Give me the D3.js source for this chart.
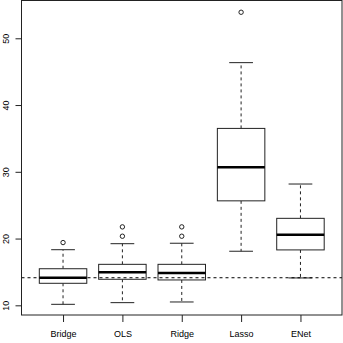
<!DOCTYPE html>
<html>
<head>
<meta charset="utf-8">
<script src="https://cdn.jsdelivr.net/npm/d3@7"></script>
<style>
  body { margin: 0; background: #fff; overflow: hidden; }
  svg { display: block; }
  text { font-family: "Liberation Sans", Arial, sans-serif; font-size: 9px; fill: #000; }
</style>
</head>
<body>
<script>
var methods = ["Bridge", "OLS", "Ridge", "Lasso", "ENet"];
var lowWhisker = [10.15, 10.4, 10.5, 18.1, 14.1];
var q1 = [13.3, 13.9, 13.8, 25.65, 18.3];
var medians = [14.13, 14.94, 14.84, 30.67, 20.58];
var q3 = [15.48, 16.14, 16.14, 36.5, 23.03];
var highWhisker = [18.33, 19.23, 19.3, 46.35, 28.17];
var outliers = [[19.4], [20.35, 21.75], [20.35, 21.75], [53.9], []];
var refLine = 14.13;
var yTicks = [10, 20, 30, 40, 50];

function init () 
{
    var w = 343, h = 343;
    var plotLeft = 21.5, plotRight = 342, plotTop = 0.5, plotBottom = 315;

    var svg = d3.select("body").append("svg")
        .attr("width", w)
        .attr("height", h);

    var xScale = d3.scaleLinear()
        .domain([0.3, 5.7])
        .range([plotLeft, plotRight]);

    var yScale = d3.scaleLinear()
        .domain([8.55, 55.66])
        .range([plotBottom, plotTop]);

    var boxHalf = 0.4;
    var capHalf = 0.2;

    var data = methods.map(function(m, i){
        return {name: m, pos: i + 1, lo: lowWhisker[i], q1: q1[i], med: medians[i],
                q3: q3[i], hi: highWhisker[i], out: outliers[i]};
    });

    var g = svg.selectAll("g.box")
        .data(data)
        .enter()
        .append("g")
        .attr("class", "box");

    // whiskers
    g.append("line")
        .attr("x1", function(d){ return xScale(d.pos); })
        .attr("x2", function(d){ return xScale(d.pos); })
        .attr("y1", function(d){ return yScale(d.q3); })
        .attr("y2", function(d){ return yScale(d.hi); })
        .attr("stroke", "#222").attr("stroke-dasharray", "3,3");
    g.append("line")
        .attr("x1", function(d){ return xScale(d.pos); })
        .attr("x2", function(d){ return xScale(d.pos); })
        .attr("y1", function(d){ return yScale(d.q1); })
        .attr("y2", function(d){ return yScale(d.lo); })
        .attr("stroke", "#222").attr("stroke-dasharray", "3,3");

    // staples
    ["hi", "lo"].forEach(function(k){
        g.append("line")
            .attr("x1", function(d){ return xScale(d.pos - capHalf); })
            .attr("x2", function(d){ return xScale(d.pos + capHalf); })
            .attr("y1", function(d){ return yScale(d[k]); })
            .attr("y2", function(d){ return yScale(d[k]); })
            .attr("stroke", "#222");
    });

    // boxes
    g.append("rect")
        .attr("x", function(d){ return xScale(d.pos - boxHalf); })
        .attr("y", function(d){ return yScale(d.q3); })
        .attr("width", function(d){ return xScale(d.pos + boxHalf) - xScale(d.pos - boxHalf); })
        .attr("height", function(d){ return yScale(d.q1) - yScale(d.q3); })
        .attr("fill", "#fff")
        .attr("stroke", "#222");

    // medians
    g.append("line")
        .attr("x1", function(d){ return xScale(d.pos - boxHalf); })
        .attr("x2", function(d){ return xScale(d.pos + boxHalf); })
        .attr("y1", function(d){ return yScale(d.med); })
        .attr("y2", function(d){ return yScale(d.med); })
        .attr("stroke", "#000")
        .attr("stroke-width", 2.5);

    // outliers
    g.selectAll("circle")
        .data(function(d){ return d.out.map(function(v){ return {pos: d.pos, v: v}; }); })
        .enter()
        .append("circle")
        .attr("cx", function(d){ return xScale(d.pos); })
        .attr("cy", function(d){ return yScale(d.v); })
        .attr("r", 2.2)
        .attr("fill", "none")
        .attr("stroke", "#222");

    // reference line
    svg.append("line")
        .attr("x1", plotLeft).attr("x2", plotRight)
        .attr("y1", yScale(refLine)).attr("y2", yScale(refLine))
        .attr("stroke", "#000")
        .attr("stroke-dasharray", "3,3");

    // frame
    svg.append("rect")
        .attr("x", plotLeft).attr("y", plotTop)
        .attr("width", plotRight - plotLeft).attr("height", plotBottom - plotTop)
        .attr("fill", "none")
        .attr("stroke", "#222");

    // y axis
    var yAxis = d3.axisLeft(yScale)
        .tickValues(yTicks)
        .tickSize(6)
        .tickSizeOuter(0);
    var ya = svg.append("g")
        .attr("transform", "translate(" + plotLeft + ",0)")
        .call(yAxis);
    ya.select(".domain").remove();
    ya.selectAll("text")
        .attr("x", 0).attr("y", 0)
        .attr("dy", null)
        .attr("text-anchor", "middle")
        .attr("transform", "translate(-12.5,0) rotate(-90)")
        .style("font-size", "9px");

    // x axis
    var xAxis = d3.axisBottom(xScale)
        .tickValues(d3.range(1, methods.length + 1))
        .tickFormat(function(d){ return methods[d - 1]; })
        .tickSize(7)
        .tickSizeOuter(0);
    var xa = svg.append("g")
        .attr("transform", "translate(0," + plotBottom + ")")
        .call(xAxis);
    xa.select(".domain").remove();
    xa.selectAll("text")
        .attr("y", 22)
        .attr("dy", null)
        .style("font-size", "9px");
    svg.selectAll(".tick line").attr("stroke", "#222");
}

window.onload = init;
</script>
</body>
</html>
